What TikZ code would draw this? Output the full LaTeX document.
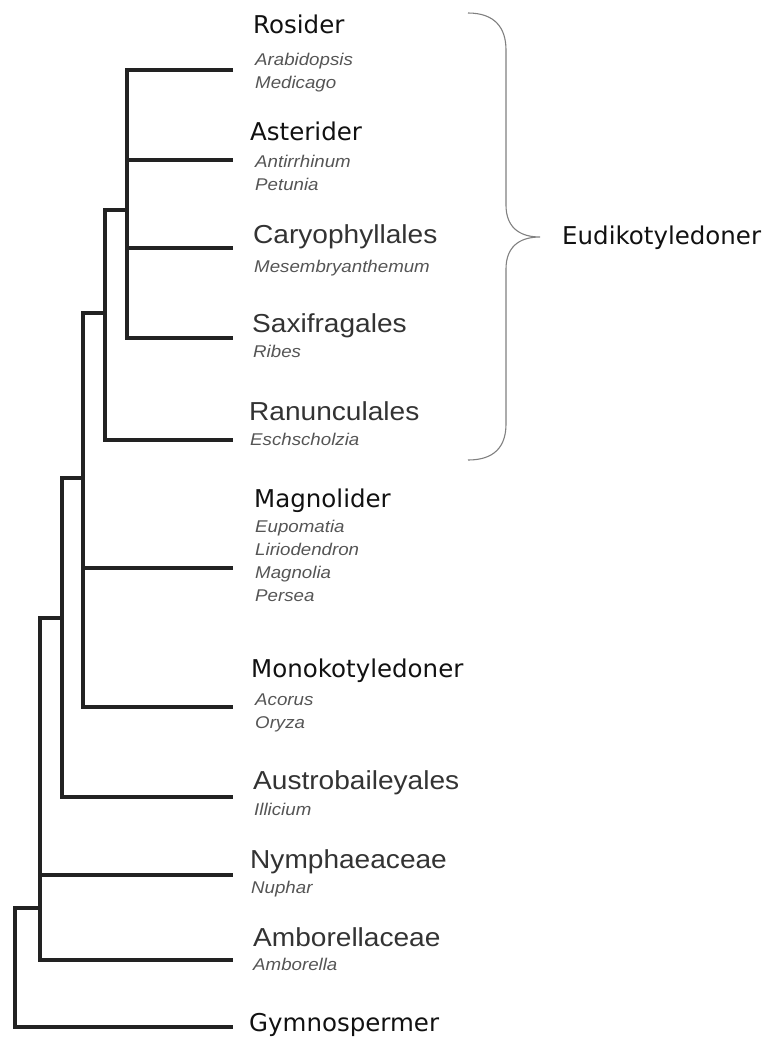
\documentclass[tikz,border=0pt]{standalone}
\usepackage{fontspec}
\newfontfamily\dvfont{DejaVu Sans}
\newfontfamily\arfont[FakeStretch=1.08]{Liberation Sans}
\newfontfamily\spfont[FakeStretch=1.1]{Liberation Sans}
\definecolor{treeline}{HTML}{222222}
\definecolor{clade}{HTML}{111111}
\definecolor{order}{HTML}{333333}
\definecolor{species}{HTML}{555555}
\definecolor{bracecol}{HTML}{808080}
\tikzset{
  branch/.style={draw=treeline, line width=3.3pt, line join=miter},
  dvlabel/.style={anchor=base west, inner sep=0pt, text=clade, font=\dvfont\fontsize{24.5}{28}\selectfont},
  arlabel/.style={anchor=base west, inner sep=0pt, text=order, font=\arfont\fontsize{26}{30}\selectfont},
  splabel/.style={anchor=base west, inner sep=0pt, text=species, font=\spfont\itshape\fontsize{17}{20}\selectfont},
  bracestyle/.style={draw=bracecol, line width=1.1pt}
}
\begin{document}
\begin{tikzpicture}[x=1pt,y=-1pt]
\useasboundingbox (0,0) rectangle (774,1037);
% leaf ends
\coordinate (l1) at (233,70);
\coordinate (l2) at (233,160);
\coordinate (l3) at (233,248);
\coordinate (l4) at (233,338);
\coordinate (l5) at (233,440);
\coordinate (l6) at (233,568);
\coordinate (l7) at (233,707);
\coordinate (l8) at (233,797);
\coordinate (l9) at (233,875);
\coordinate (l10) at (233,960);
\coordinate (l11) at (233,1027);
% internal nodes
\coordinate (c1) at (127,210);
\coordinate (c2) at (105,313);
\coordinate (c3) at (83,478);
\coordinate (c4) at (62,618);
\coordinate (c5) at (40,908);
\coordinate (r) at (15,968);
% branches
\draw[branch] (l1) -| (c1) |- (l4);
\draw[branch] (c1) |- (l2);
\draw[branch] (c1) |- (l3);
\draw[branch] (c2) |- (c1);
\draw[branch] (c2) |- (l5);
\draw[branch] (c3) |- (c2);
\draw[branch] (c3) |- (l6);
\draw[branch] (c3) |- (l7);
\draw[branch] (c4) |- (c3);
\draw[branch] (c4) |- (l8);
\draw[branch] (c5) |- (c4);
\draw[branch] (c5) |- (l9);
\draw[branch] (c5) |- (l10);
\draw[branch] (r) |- (c5);
\draw[branch] (r) |- (l11);
% labels
\node[dvlabel] (ros) at (253,33) {Rosider};
\node[splabel] (ros1) at (255,65) {Arabidopsis};
\node[splabel] (ros2) at (255,88) {Medicago};
\node[dvlabel] (ast) at (250,140) {Asterider};
\node[splabel] (ast1) at (255,167) {Antirrhinum};
\node[splabel] (ast2) at (255,190) {Petunia};
\node[arlabel] (car) at (253,243) {Caryophyllales};
\node[splabel] (car1) at (254,272) {Mesembryanthemum};
\node[arlabel] (sax) at (252,332) {Saxifragales};
\node[splabel] (sax1) at (253,357) {Ribes};
\node[arlabel] (ran) at (249,420) {Ranunculales};
\node[splabel] (ran1) at (250,445) {Eschscholzia};
\node[dvlabel] (mag) at (254,507) {Magnolider};
\node[splabel] (mag1) at (255,532) {Eupomatia};
\node[splabel] (mag2) at (255,555) {Liriodendron};
\node[splabel] (mag3) at (255,578) {Magnolia};
\node[splabel] (mag4) at (255,601) {Persea};
\node[dvlabel] (mon) at (251,677) {Monokotyledoner};
\node[splabel] (mon1) at (255,705) {Acorus};
\node[splabel] (mon2) at (255,728) {Oryza};
\node[arlabel] (aus) at (253,789) {Austrobaileyales};
\node[splabel] (aus1) at (254,815) {Illicium};
\node[arlabel] (nym) at (250,868) {Nymphaeaceae};
\node[splabel] (nym1) at (251,893) {Nuphar};
\node[arlabel] (amb) at (253,946) {Amborellaceae};
\node[splabel] (amb1) at (253,970) {Amborella};
\node[dvlabel] (gym) at (249,1031) {Gymnospermer};
\node[dvlabel] (eud) at (562,244) {Eudikotyledoner};
% brace
\coordinate (bt) at (468,13);
\coordinate (bm) at (540,237);
\coordinate (bb) at (468,460);
\draw[bracestyle] (bt) .. controls (495,13) and (506,28) .. (506,50)
  -- (506,205) .. controls (506,226) and (518,237) .. (bm)
  .. controls (518,237) and (506,248) .. (506,269)
  -- (506,424) .. controls (506,446) and (495,460) .. (bb);
\end{tikzpicture}
\end{document}
